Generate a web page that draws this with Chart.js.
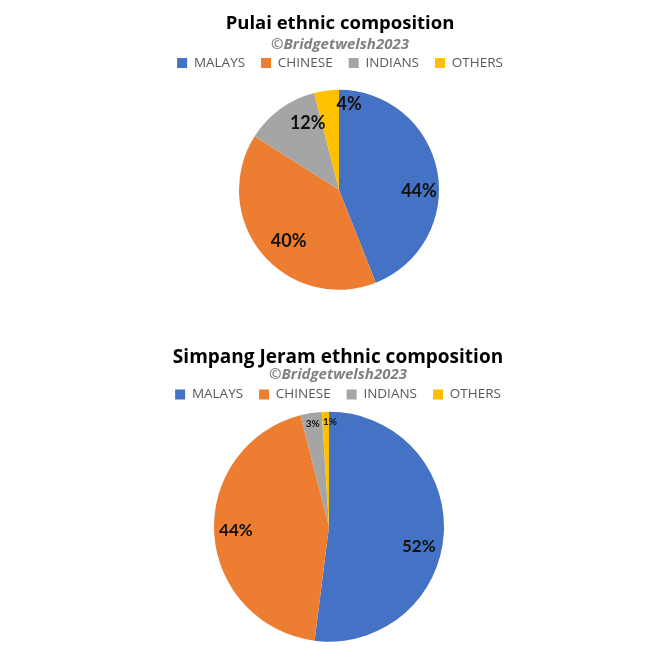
<!DOCTYPE html>
<html><head><meta charset="utf-8">
<script src="https://cdn.jsdelivr.net/npm/chart.js@4/dist/chart.umd.min.js"></script>
<style>
html,body{margin:0;padding:0;background:#fff;width:666px;height:666px;overflow:hidden}
.box{position:absolute;left:0;width:666px}
</style></head><body>
<div class="box" style="top:0;height:300px"><canvas id="c1"></canvas></div>
<div class="box" style="top:330px;height:312px"><canvas id="c2"></canvas></div>
<script>
const categories = ['MALAYS', 'CHINESE', 'INDIANS', 'OTHERS'];
const pulaiValues = [44, 40, 12, 4];
const simpangValues = [52, 44, 3, 1];
const pulaiTitle = 'Pulai ethnic composition';
const simpangTitle = 'Simpang Jeram ethnic composition';
const credit = '©Bridgetwelsh2023';
const colors = ['#4472C4', '#ED7D31', '#A5A5A5', '#FFC000'];

const labelPlugin = {
  id: 'pctLabels',
  afterDatasetsDraw(chart, args, opts) {
    const ctx = chart.ctx;
    const meta = chart.getDatasetMeta(0);
    const data = chart.data.datasets[0].data;
    const total = data.reduce((a, b) => a + b, 0);
    meta.data.forEach((arc, i) => {
      const p = arc.getProps(['x', 'y', 'startAngle', 'endAngle', 'outerRadius'], true);
      const mid = (p.startAngle + p.endAngle) / 2 + (opts.angleAdj[i] || 0) * Math.PI / 180;
      const pct = data[i] / total * 100;
      const small = pct < 5;
      const f = opts.factors[i];
      const x = p.x + Math.cos(mid) * p.outerRadius * f;
      const y = p.y + Math.sin(mid) * p.outerRadius * f;
      ctx.save();
      ctx.fillStyle = '#111';
      ctx.font = 'bold ' + (small ? opts.smallSize : opts.size) + 'px Lato, "Open Sans", sans-serif';
      ctx.textAlign = 'center';
      ctx.textBaseline = 'middle';
      ctx.fillText(Math.round(pct) + '%', x, y);
      ctx.restore();
    });
  }
};

const shiftPlugin = {
  id: 'shiftArea',
  afterLayout(chart, args, opts) {
    const dx = opts.dx || 0;
    chart.chartArea.left += dx;
    chart.chartArea.right += dx;
  }
};

function makeChart(id, title, values, cfg) {
  return new Chart(document.getElementById(id), {
    type: 'pie',
    data: {
      labels: categories,
      datasets: [{ data: values, backgroundColor: colors, borderWidth: 0, radius: cfg.radius }]
    },
    plugins: [labelPlugin, shiftPlugin],
    options: {
      responsive: true,
      maintainAspectRatio: false,
      animation: false,
      layout: { padding: { left: cfg.padLeft, right: 0, top: 0, bottom: 0 } },
      plugins: {
        tooltip: { enabled: false },
        title: {
          display: true, text: title, color: '#000',
          font: { family: '"Open Sans", sans-serif', size: cfg.titleSize, weight: 'bold' },
          padding: { top: cfg.titleTop, bottom: 0 }
        },
        subtitle: {
          display: true, text: credit, color: '#808080',
          font: { family: '"Open Sans", sans-serif', size: 15, weight: 'bold', style: 'italic' },
          padding: { top: cfg.subTop, bottom: cfg.subBottom }
        },
        legend: {
          position: 'top',
          labels: {
            boxWidth: 10, boxHeight: 10, padding: 16, color: '#595959',
            font: { family: '"Open Sans", sans-serif', size: 13.5 }
          }
        },
        pctLabels: cfg.labels,
        shiftArea: { dx: cfg.shift }
      }
    }
  });
}

makeChart('c1', pulaiTitle, pulaiValues, {
  radius: 100, padLeft: 14, titleSize: 18.5, titleTop: 13, subTop: 1, subBottom: -14, shift: -1,
  labels: { factors: [0.8, 0.72, 0.74, 0.86], angleAdj: [12, -6, 11, 14], size: 18, smallSize: 18 }
});
makeChart('c2', simpangTitle, simpangValues, {
  radius: 115, padLeft: 10, titleSize: 19, titleTop: 16, subTop: -3, subBottom: -12, shift: -9,
  labels: { factors: [0.8, 0.81, 0.91, 0.91], angleAdj: [9, 1, 0, 2.3], size: 17, smallSize: 10 }
});
</script>
</body></html>
